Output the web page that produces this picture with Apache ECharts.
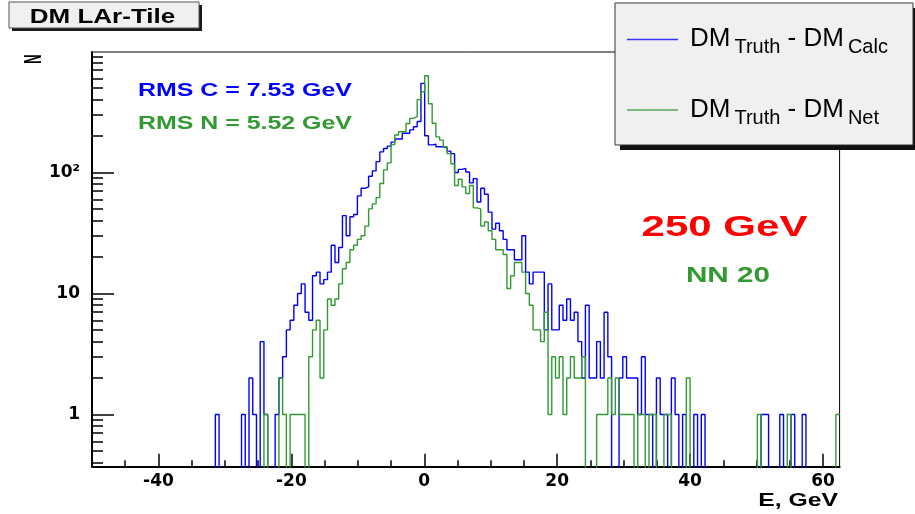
<!DOCTYPE html>
<html><head><meta charset="utf-8">
<script src="https://cdn.jsdelivr.net/npm/echarts@6/dist/echarts.min.js"></script>
<style>html,body{margin:0;padding:0;background:#fff}#c{width:915px;height:514px}</style>
</head><body><div id="c"></div>
<script>
// Histogram binning: 200 bins from -50 to 62.5 GeV
const xMin = -50, xMax = 62.5, binWidth = 0.5625;
const yMin = 0.37, yMax = 990;

// DM_Truth - DM_Calc (blue), counts per bin
const calcCounts = [
  0,0,0,0,0,0,0,0,0,0,0,0,0,0,0,0,0,0,0,0,
  0,0,0,0,0,0,0,0,0,0,0,0,0,1,0,0,0,0,0,0,
  1,0,2,1,0,4,1,0,0,1,2,3,5,6,8,10,12,7,6,14,
  15,12,13,15,25,18,24,44,30,43,45,64,74,76,93,103,123,148,158,165,
  178,189,189,211,211,225,239,264,545,201,169,171,163,163,160,150,143,100,106,108,
  101,82,89,57,74,66,47,34,38,33,28,23,23,19,19,30,15,12,15,15,
  15,5,12,5,5,8,6,9,6,7,4,2,8,2,2,4,2,7,3,0,
  0,2,3,2,2,2,1,3,1,1,0,2,1,1,0,2,1,0,1,0,
  0,1,0,1,0,0,0,0,0,0,0,0,0,0,0,0,0,0,0,1,
  1,0,0,0,1,0,0,1,0,0,1,0,0,0,0,0,0,0,0,0
];
// DM_Truth - DM_Net (green), counts per bin
const netCounts = [
  0,0,0,0,0,0,0,0,0,0,0,0,0,0,0,0,0,0,0,0,
  0,0,0,0,0,0,0,0,0,0,0,0,0,0,0,0,0,0,0,0,
  0,0,0,0,0,0,1,0,0,0,2,1,0,1,1,1,1,0,3,5,
  6,2,5,9,8,9,12,16,18,23,25,28,30,36,50,55,62,81,105,120,
  170,204,217,217,254,280,290,400,464,630,370,255,197,185,163,143,118,78,88,76,
  67,78,51,50,36,39,33,28,23,23,21,11,14,18,18,15,10,8,5,5,
  4,7,1,3,2,3,1,2,3,2,2,3,0,0,0,1,1,1,2,1,
  2,1,1,1,1,0,1,1,0,1,1,0,0,1,1,0,0,0,0,2,
  0,0,0,0,0,0,0,0,0,0,0,0,0,0,0,0,0,0,1,0,
  0,0,0,0,0,0,1,0,0,0,0,0,0,0,0,0,0,0,0,1
];

const xMajorTicks = [-40, -20, 0, 20, 40, 60];
const xMinorTicks = [-45, -35, -30, -25, -15, -10, -5, 5, 10, 15, 25, 30, 35, 45, 50, 55];
const yMajorTicks = [1, 10, 100];
const yMinorTicks = [0.4,0.5,0.6,0.7,0.8,0.9, 2,3,4,5,6,7,8,9, 20,30,40,50,60,70,80,90, 200,300,400,500,600,700,800,900];
const yTickText = {1: '1', 10: '10', 100: '10²'};

const titleText = 'DM LAr-Tile';
const rmsCalcText = 'RMS C = 7.53 GeV';
const rmsNetText = 'RMS N = 5.52 GeV';
const energyText = '250 GeV';
const nnText = 'NN 20';

const BLUE = '#0000ff', GREEN = '#339933', RED = '#ff0000';

function histPoints(counts) {
  const pts = [];
  for (let k = 0; k < counts.length; k++) {
    const v = counts[k];
    pts.push([xMin + k * binWidth, v > 0 ? v : 0.01]);
  }
  const last = counts[counts.length - 1];
  pts.push([xMax, last > 0 ? last : 0.01]);
  return pts;
}

const chart = echarts.init(document.getElementById('c'), null, {renderer: 'canvas'});
chart.setOption({
  animation: false,
  backgroundColor: '#ffffff',
  grid: {left: 92, right: 75.4, top: 52, bottom: 47.3, show: true, borderColor: '#000', borderWidth: 1, backgroundColor: 'transparent'},
  xAxis: [
    {type: 'value', min: xMin, max: xMax, position: 'bottom',
     axisLine: {show: true, onZero: false, lineStyle: {color: '#000', width: 2}},
     axisTick: {show: true, inside: true, length: 13, customValues: xMajorTicks, lineStyle: {color: '#000', width: 1.5}},
     axisLabel: {show: true, customValues: xMajorTicks, margin: 6, color: '#000', fontFamily: 'DejaVu Sans', fontWeight: 'bold', fontSize: 17},
     splitLine: {show: false}},
    {type: 'value', min: xMin, max: xMax, position: 'bottom',
     axisLine: {show: false, onZero: false},
     axisTick: {show: true, inside: true, length: 6.5, customValues: xMinorTicks, lineStyle: {color: '#000', width: 1.5}},
     axisLabel: {show: false}, splitLine: {show: false}}
  ],
  yAxis: [
    {type: 'log', min: yMin, max: yMax, position: 'left',
     axisLine: {show: true, onZero: false, lineStyle: {color: '#000', width: 2}},
     axisTick: {show: true, inside: true, length: 22, customValues: yMajorTicks, lineStyle: {color: '#000', width: 1.5}},
     axisLabel: {show: true, customValues: yMajorTicks, margin: 12, color: '#000', fontFamily: 'DejaVu Sans', fontWeight: 'bold', fontSize: 17,
       formatter: function (v) { return yTickText[Math.round(v)] || ''; }},
     splitLine: {show: false}},
    {type: 'log', min: yMin, max: yMax, position: 'left',
     axisLine: {show: false, onZero: false},
     axisTick: {show: true, inside: true, length: 11, customValues: yMinorTicks, lineStyle: {color: '#000', width: 1.5}},
     axisLabel: {show: false}, splitLine: {show: false}}
  ],
  series: [
    {type: 'line', name: 'calc', step: 'end', symbol: 'none', xAxisIndex: 0, yAxisIndex: 0,
     data: histPoints(calcCounts), lineStyle: {color: BLUE, width: 1.4}, clip: true, z: 3},
    {type: 'line', name: 'net', step: 'end', symbol: 'none', xAxisIndex: 0, yAxisIndex: 0,
     data: histPoints(netCounts), lineStyle: {color: GREEN, width: 1.4}, clip: true, z: 4}
  ],
  graphic: [
    // title box
    {type: 'rect', shape: {x: 12, y: 5, width: 190, height: 26}, style: {fill: '#1a1a1a'}, z: 10},
    {type: 'rect', shape: {x: 9, y: 2, width: 190, height: 26}, style: {fill: '#f0f0f0', stroke: '#555', lineWidth: 1}, z: 11},
    {type: 'text', x: 102.5, y: 17.5, scaleX: 1.3, z: 12,
     style: {text: titleText, fill: '#000', font: 'bold 20px "Liberation Sans"', textAlign: 'center', textVerticalAlign: 'middle'}},
    // legend box
    {type: 'rect', shape: {x: 620, y: 8, width: 298, height: 142}, style: {fill: '#111'}, z: 10},
    {type: 'rect', shape: {x: 615, y: 3, width: 298, height: 142}, style: {fill: '#f0f0f0', stroke: '#333', lineWidth: 1}, z: 11},
    {type: 'line', shape: {x1: 627, y1: 39.5, x2: 678, y2: 39.5}, style: {stroke: '#3333ff', lineWidth: 1.5}, z: 12},
    {type: 'line', shape: {x1: 627, y1: 110, x2: 678, y2: 110}, style: {stroke: '#55aa55', lineWidth: 1.5}, z: 12},
    {type: 'text', x: 690, y: 39, z: 12,
     style: {text: '{m|DM}{s|Truth}{m| - DM}{s|Calc}', textVerticalAlign: 'middle',
       rich: {m: {fontSize: 26, fontFamily: 'Liberation Sans', fill: '#000'},
              s: {fontSize: 20, fontFamily: 'Liberation Sans', fill: '#000', padding: [16, 0, 0, 4]}}}},
    {type: 'text', x: 690, y: 110, z: 12,
     style: {text: '{m|DM}{s|Truth}{m| - DM}{s|Net}', textVerticalAlign: 'middle',
       rich: {m: {fontSize: 26, fontFamily: 'Liberation Sans', fill: '#000'},
              s: {fontSize: 20, fontFamily: 'Liberation Sans', fill: '#000', padding: [16, 0, 0, 4]}}}},
    // annotations
    {type: 'text', x: 138, y: 91, scaleX: 1.34, z: 12,
     style: {text: rmsCalcText, fill: BLUE, font: 'bold 18.6px "Liberation Sans"', textAlign: 'left', textVerticalAlign: 'middle'}},
    {type: 'text', x: 138, y: 124, scaleX: 1.34, z: 12,
     style: {text: rmsNetText, fill: GREEN, font: 'bold 18.6px "Liberation Sans"', textAlign: 'left', textVerticalAlign: 'middle'}},
    {type: 'text', x: 724.5, y: 228, scaleX: 1.4, z: 12,
     style: {text: energyText, fill: RED, font: 'bold 30px "Liberation Sans"', textAlign: 'center', textVerticalAlign: 'middle'}},
    {type: 'text', x: 728, y: 276, scaleX: 1.35, z: 12,
     style: {text: nnText, fill: GREEN, font: 'bold 22px "Liberation Sans"', textAlign: 'center', textVerticalAlign: 'middle'}},
    // axis titles
    {type: 'text', x: 838, y: 501, scaleX: 1.33, z: 12,
     style: {text: 'E, GeV', fill: '#000', font: 'bold 18.6px "Liberation Sans"', textAlign: 'right', textVerticalAlign: 'middle'}},
    {type: 'text', x: 34.5, y: 59, rotation: Math.PI / 2, scaleY: 1.3, scaleX: 0.7, z: 12,
     style: {text: 'N', fill: '#000', font: 'bold 18.6px "Liberation Sans"', textAlign: 'center', textVerticalAlign: 'middle'}}
  ]
});
</script>
</body></html>
